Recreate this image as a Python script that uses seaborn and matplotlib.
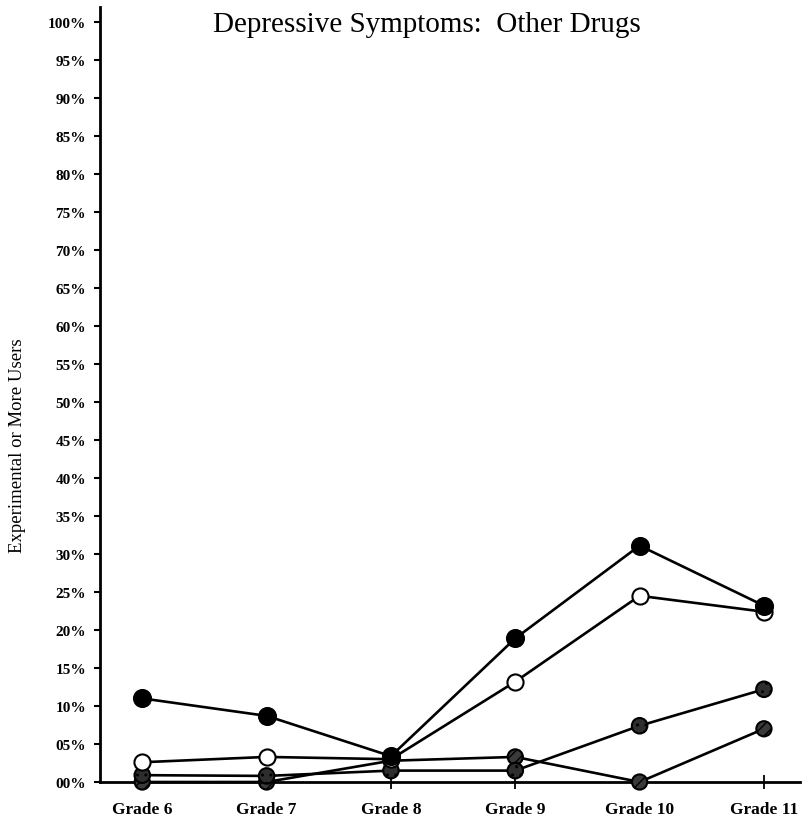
import matplotlib
matplotlib.use("Agg")
import matplotlib.pyplot as plt
import seaborn as sns
import pandas as pd

# Values (percent of students)
grades = ["Grade 6", "Grade 7", "Grade 8", "Grade 9", "Grade 10", "Grade 11"]
filled_pct = [11.0, 8.7, 3.4, 18.9, 31.1, 23.2]
open_pct = [2.6, 3.3, 3.0, 13.2, 24.5, 22.4]
stippled_pct = [0.9, 0.8, 1.5, 1.5, 7.4, 12.2]
hatched_pct = [0.0, 0.0, 2.8, 3.3, 0.0, 7.0]

y_ticks = [0, 5, 10, 15, 20, 25, 30, 35, 40, 45, 50,
           55, 60, 65, 70, 75, 80, 85, 90, 95, 100]
y_tick_labels = ["00%", "05%", "10%", "15%", "20%", "25%", "30%", "35%", "40%", "45%", "50%",
                 "55%", "60%", "65%", "70%", "75%", "80%", "85%", "90%", "95%", "100%"]

title = "Depressive Symptoms:  Other Drugs"
y_label = "Experimental or More Users"

sns.set_style("ticks", {"axes.edgecolor": "black", "xtick.color": "black",
                        "ytick.color": "black", "text.color": "black"})
plt.rcParams["font.family"] = ["Liberation Serif", "DejaVu Serif"]

x_pos = list(range(len(grades)))
frames = []
for name, vals in [("hatched", hatched_pct), ("stippled", stippled_pct),
                   ("open", open_pct), ("filled", filled_pct)]:
    frames.append(pd.DataFrame({"x": x_pos, "pct": vals, "series": name}))
data = pd.concat(frames, ignore_index=True)

marker_styles = {
    "hatched": dict(facecolor="#3a3a3a", edgecolor="black", hatch="///", s=120),
    "stippled": dict(facecolor="#2e2e2e", edgecolor="black", hatch="..", s=125),
    "open": dict(facecolor="white", edgecolor="black", s=135),
    "filled": dict(facecolor="black", edgecolor="black", s=150),
}

fig = plt.figure(figsize=(8.08, 8.2), dpi=100)
ax = fig.add_axes([100 / 808, 37 / 820, 700 / 808, (783 - 7.8) / 820])

# connecting lines
for name in ["hatched", "stippled", "open", "filled"]:
    sub = data[data["series"] == name]
    sns.lineplot(data=sub, x="x", y="pct", color="black", linewidth=1.9,
                 ax=ax, zorder=2, clip_on=False)

# markers on top
for name in ["hatched", "stippled", "open", "filled"]:
    sub = data[data["series"] == name]
    st = marker_styles[name]
    sns.scatterplot(data=sub, x="x", y="pct", ax=ax, marker="o",
                    s=st["s"], facecolor=st["facecolor"], edgecolor=st["edgecolor"],
                    linewidth=1.5, hatch=st.get("hatch"), zorder=3, clip_on=False,
                    legend=False)

ax.set_xlim(-0.34, 5.29)
ax.set_ylim(0, 102)

ax.set_yticks(y_ticks)
ax.set_yticklabels(y_tick_labels, fontsize=11, fontweight="bold", color="black")
ax.set_xticks(x_pos)
ax.set_xticklabels(grades, fontsize=12.5, fontweight="bold", color="black")

ax.tick_params(axis="y", direction="out", length=4, width=1.5, pad=6)
ax.tick_params(axis="x", direction="inout", length=10, width=1.3, pad=9)

for side in ["top", "right"]:
    ax.spines[side].set_visible(False)
ax.spines["left"].set_linewidth(2)
ax.spines["bottom"].set_linewidth(2)

ax.set_xlabel("")
ax.set_ylabel("")
fig.text(18 / 808, 1 - 446 / 820, y_label, rotation=90, ha="center", va="center",
         fontsize=13.5, color="black")
fig.text(427 / 808, 1 - 25 / 820, title, ha="center", va="center", fontsize=21,
         color="black")

fig.savefig("out.png", dpi=100)
plt.close(fig)
